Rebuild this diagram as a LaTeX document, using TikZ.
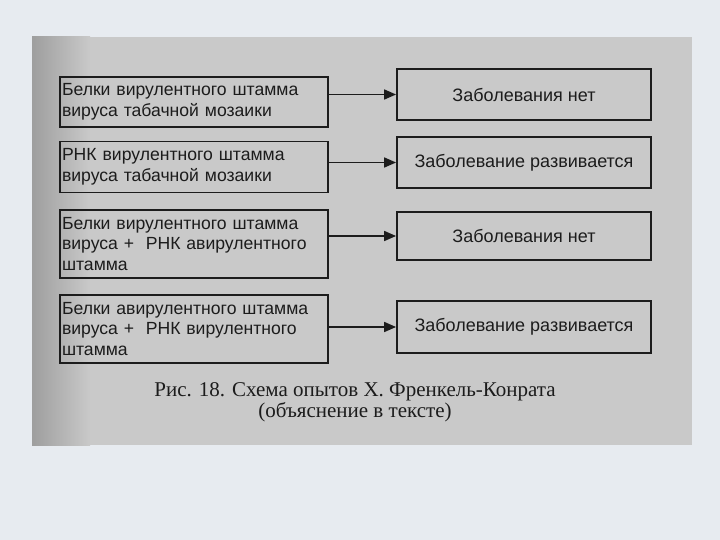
\documentclass[tikz,border=0pt]{standalone}
\usepackage{fontspec}
\setmainfont{Liberation Serif}
\newfontfamily\boxfont{Liberation Sans}
\usetikzlibrary{arrows.meta,positioning}
\definecolor{pagebg}{HTML}{E7EBF0}
\definecolor{scangray}{HTML}{C9C9C9}
\definecolor{scandark}{HTML}{9E9E9E}
\definecolor{ink}{HTML}{1C1C1C}

\begin{document}
\begin{tikzpicture}[x=1pt,y=-1pt]
   \tikzstyle{lb}=[draw=ink,line width=1.8pt,text width=264pt,inner xsep=2pt,align=left,font=\boxfont\fontsize{17.6}{20.5}\selectfont,text=ink]
   \tikzstyle{rb}=[draw=ink,line width=1.8pt,minimum width=254pt,font=\boxfont\fontsize{18}{21}\selectfont,text=ink]
   \tikzstyle{ar}=[ink,line width=1.6pt,-{Triangle[length=12pt,width=10pt]}]
   \tikzstyle{capt}=[font=\fontsize{21}{21}\selectfont,text=ink,align=center]

   % page and scanned sheet
   \useasboundingbox (0,0) rectangle (720,540);
   \fill[pagebg] (0,0) rectangle (720,540);
   \fill[scangray] (32,37) rectangle (692,445);
   \shade[left color=scandark,right color=scangray] (32,37) rectangle (90,445);

   % what was put on the leaf
   \node (l1) [lb,minimum height=50pt] at (194,102) {Белки вирулентного штамма\\вируса табачной мозаики};
   \node (l2) [lb,minimum height=51pt] at (194,167) {РНК вирулентного штамма\\вируса табачной мозаики};
   \node (l3) [lb,minimum height=68pt] at (194,244) {Белки вирулентного штамма\\вируса +\ \ РНК авирулентного\\штамма};
   \node (l4) [lb,minimum height=68pt] at (194,329) {Белки авирулентного штамма\\вируса +\ \ РНК вирулентного\\штамма};

   % outcome
   \node (r1) [rb,minimum height=51pt] at (524,94.5) {Заболевания нет};
   \node (r2) [rb,minimum height=51pt] at (524,162.5) {Заболевание развивается};
   \node (r3) [rb,minimum height=48pt] at (524,236) {Заболевания нет};
   \node (r4) [rb,minimum height=52pt] at (524,327) {Заболевание развивается};

   \draw[ar] (l1.east |- r1.west) -- (r1.west);
   \draw[ar] (l2.east |- r2.west) -- (r2.west);
   \draw[ar] (l3.east |- r3.west) -- (r3.west);
   \draw[ar] (l4.east |- r4.west) -- (r4.west);

   \node (cap1) [capt] at (355,402) {Рис. 18. Схема опытов Х. Френкель-Конрата\\(объяснение в тексте)};
\end{tikzpicture}
\end{document}
